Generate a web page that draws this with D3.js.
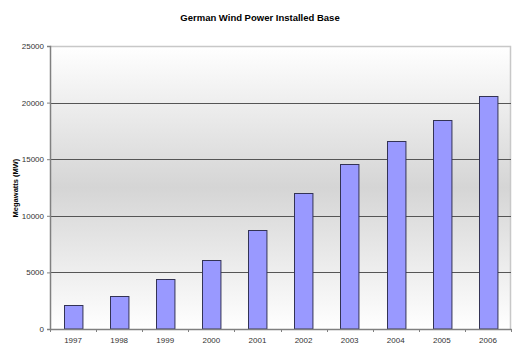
<!DOCTYPE html>
<html><head><meta charset="utf-8">
<script src="https://cdn.jsdelivr.net/npm/d3@7"></script>
<style>body{margin:0;background:#fff}svg{display:block}</style>
</head><body>
<script>
const years = ["1997","1998","1999","2000","2001","2002","2003","2004","2005","2006"];
const megawatts = [2081, 2875, 4442, 6095, 8754, 12001, 14609, 16629, 18428, 20622];
const yTicks = [0, 5000, 10000, 15000, 20000, 25000];
const title = "German Wind Power Installed Base";
const yLabel = "Megawatts (MW)";

const W = 520, H = 355;
const m = {left: 50, right: 9, top: 46, bottom: 26};
const svg = d3.select("body").append("svg").attr("width", W).attr("height", H);
const defs = svg.append("defs");
const g1 = defs.append("linearGradient").attr("id","bg").attr("x1",0).attr("y1",0).attr("x2",0).attr("y2",1);
g1.append("stop").attr("offset","0%").attr("stop-color","#ffffff");
g1.append("stop").attr("offset","50%").attr("stop-color","#d5d5d5");
g1.append("stop").attr("offset","100%").attr("stop-color","#ffffff");

const x = d3.scaleBand().domain(years).range([m.left, W - m.right]).paddingInner(0.6).paddingOuter(0.3);
const xb = d3.scaleBand().domain(years).range([m.left, W - m.right]);
const y = d3.scaleLinear().domain([0, 25000]).range([H - m.bottom, m.top]);

svg.append("rect").attr("x", m.left).attr("y", m.top).attr("width", W - m.right - m.left).attr("height", H - m.bottom - m.top).attr("fill","url(#bg)");
// top/right border
svg.append("path").attr("d", `M${m.left},${m.top+0.5}H${W-m.right-0.5}V${H-m.bottom}`).attr("fill","none").attr("stroke","#c8c8c8").attr("stroke-width",1.5);

// gridlines
svg.append("g").selectAll("line").data(yTicks.filter(t => t > 0 && t < 25000)).join("line")
  .attr("x1", m.left).attr("x2", W - m.right)
  .attr("y1", d => Math.round(y(d)) + 0.5).attr("y2", d => Math.round(y(d)) + 0.5)
  .attr("stroke", "#555").attr("stroke-width", 1);

// bars
svg.append("g").selectAll("rect").data(megawatts).join("rect")
  .attr("x", (d,i) => Math.round(x(years[i])) + 0.5)
  .attr("y", d => Math.round(y(d)) + 0.5)
  .attr("width", x.bandwidth())
  .attr("height", d => y(0) - Math.round(y(d)) - 0.5)
  .attr("fill", "#9999ff").attr("stroke", "#333355").attr("stroke-width", 1);

// y axis
const yAxis = svg.append("g").attr("transform", `translate(${m.left},0)`)
  .call(d3.axisLeft(y).tickValues(yTicks).tickSize(3).tickPadding(3).tickFormat(d3.format("d")));
yAxis.select(".domain").attr("stroke","#808080").attr("stroke-width",1.5);
yAxis.selectAll(".tick line").attr("stroke","#808080");
yAxis.selectAll("text").attr("font-family","Arial, 'Liberation Sans', sans-serif").attr("font-size","8px").attr("fill","#333");

// x axis
const xAxis = svg.append("g").attr("transform", `translate(0,${H - m.bottom})`)
  .call(d3.axisBottom(xb).tickSize(0).tickPadding(8));
xAxis.select(".domain").attr("stroke","#808080").attr("stroke-width",1.5);
xAxis.selectAll("text").attr("font-family","Arial, 'Liberation Sans', sans-serif").attr("font-size","8px").attr("fill","#333");
// tick marks at band boundaries
svg.append("g").selectAll("line").data(years.concat(["end"])).join("line")
  .attr("x1", (d,i) => Math.round(m.left + i * xb.step()) + 0.5)
  .attr("x2", (d,i) => Math.round(m.left + i * xb.step()) + 0.5)
  .attr("y1", H - m.bottom).attr("y2", H - m.bottom + 3)
  .attr("stroke", "#808080");

// title
svg.append("text").attr("x", 260).attr("y", 21).attr("text-anchor","middle")
  .attr("font-family","Arial, 'Liberation Sans', sans-serif").attr("font-size","9.5px").attr("font-weight","bold").attr("fill","#000")
  .text(title);
// y label
svg.append("text").attr("transform","translate(18,188) rotate(-90)").attr("text-anchor","middle")
  .attr("font-family","Arial, 'Liberation Sans', sans-serif").attr("font-size","7.5px").attr("font-weight","bold").attr("fill","#000")
  .text(yLabel);
</script>
</body></html>
